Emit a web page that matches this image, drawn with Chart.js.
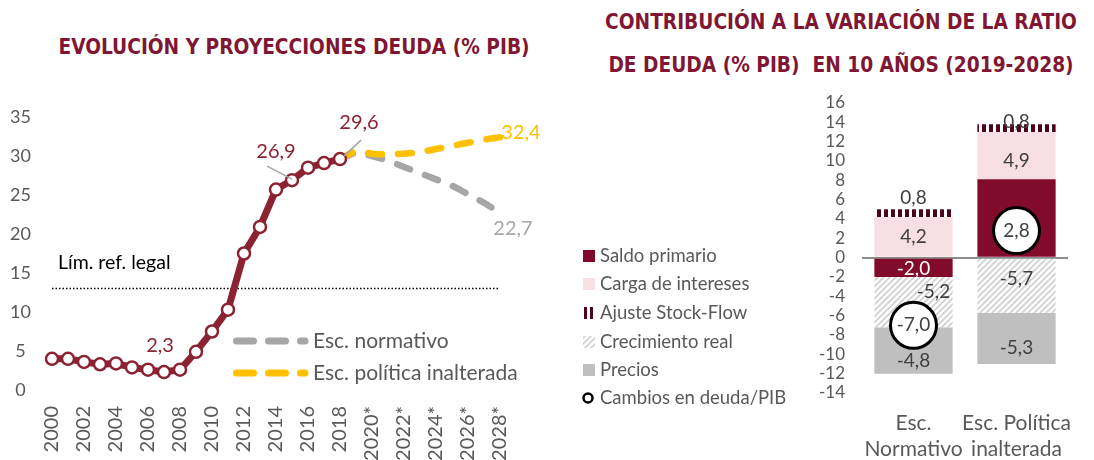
<!DOCTYPE html>
<html>
<head>
<meta charset="utf-8">
<script src="https://cdn.jsdelivr.net/npm/chart.js@4.4.1/dist/chart.umd.min.js"></script>
<style>
  body { margin: 0; background: #fff; width: 1094px; height: 460px; overflow: hidden; position: relative; font-family: Lato, sans-serif; }
  .tit { position: absolute; color: #7f1734; font-family: 'Liberation Sans Narrow', 'DejaVu Sans Condensed', sans-serif; font-weight: bold; font-size: 20.7px; white-space: nowrap; transform: translate(-50%, -50%); }
  #graficaDeuda { position: absolute; left: 0; top: 0; }
  #graficaContrib { position: absolute; left: 555px; top: 0; }
</style>
</head>
<body>
<div class="tit" style="left:294px;top:47px">EVOLUCIÓN Y PROYECCIONES DEUDA (% PIB)</div>
<div class="tit" style="left:841px;top:22px">CONTRIBUCIÓN A LA VARIACIÓN DE LA RATIO</div>
<div class="tit" style="left:841px;top:65px">DE DEUDA (% PIB)&nbsp; EN 10 AÑOS (2019-2028)</div>
<canvas id="graficaDeuda" width="555" height="460"></canvas>
<canvas id="graficaContrib" width="539" height="460"></canvas>
<script>
/* DATOS IZQUIERDA */
const anios = ['2000','2001','2002','2003','2004','2005','2006','2007','2008','2009',
  '2010','2011','2012','2013','2014','2015','2016','2017','2018','2019*',
  '2020*','2021*','2022*','2023*','2024*','2025*','2026*','2027*','2028*'];
const deudaHist = [4.0, 4.0, 3.6, 3.3, 3.4, 2.9, 2.6, 2.3, 2.6, 4.9,
  7.5, 10.3, 17.5, 20.9, 25.7, 26.9, 28.5, 29.1, 29.6];
const escNormativo = [null, null, null, null, null, null, null, null, null, null,
  null, null, null, null, null, null, null, null, 29.6, 30.4,
  30.0, 29.4, 28.6, 27.8, 27.0, 26.2, 25.1, 24.0, 22.7];
const escInalterada = [null, null, null, null, null, null, null, null, null, null,
  null, null, null, null, null, null, null, null, 29.6, 30.6,
  30.3, 30.2, 30.3, 30.5, 30.9, 31.3, 31.7, 32.1, 32.4];
const limRefLegal = 13;

/* DATOS DERECHA */
const escenarios = [['Esc.', 'Normativo'], ['Esc. Política', 'inalterada']];
const saldoPrimario = [-2.0, 8.1];
const cargaIntereses = [4.2, 4.9];
const ajusteStockFlow = [0.8, 0.8];
const crecimientoReal = [-5.2, -5.7];
const precios = [-4.8, -5.3];
const cambiosDeuda = [-7.0, 2.8];

const rojo = '#8b2332';
const gris = '#a6a6a6';
const amarillo = '#ffc000';
const textoGris = '#595959';
const fuente = 'Lato';

const fmt = v => v.toFixed(1).replace('.', ',');

/* GRAFICA IZQUIERDA */
const pluginDeuda = {
  id: 'anotDeuda',
  beforeDatasetsDraw(chart) {
    const ctx = chart.ctx;
    const y = chart.scales.y.getPixelForValue(limRefLegal);
    ctx.save();
    ctx.strokeStyle = '#000';
    ctx.lineWidth = 1.5;
    ctx.setLineDash([1.5, 2]);
    ctx.beginPath();
    ctx.moveTo(chart.chartArea.left, y);
    ctx.lineTo(chart.chartArea.right, y);
    ctx.stroke();
    ctx.restore();
  },
  afterDatasetsDraw(chart) {
    const ctx = chart.ctx;
    const xs = chart.scales.x, ys = chart.scales.y;
    const px = i => xs.getPixelForValue(i);
    ctx.save();
    ctx.textAlign = 'left';
    ctx.textBaseline = 'middle';
    ctx.fillStyle = '#000';
    ctx.font = '19.5px ' + fuente;
    ctx.fillText('Lím. ref. legal', 58, ys.getPixelForValue(limRefLegal) - 26);

    // etiquetas de valores
    ctx.textAlign = 'center';
    ctx.font = '20px ' + fuente;
    const etiquetas = [
      { i: 7, v: deudaHist[7], dx: -4, dy: -27, col: rojo },
      { i: 15, v: deudaHist[15], dx: -16, dy: -29, col: rojo, linea: [[-25, -14], [0, -1]] },
      { i: 18, v: deudaHist[18], dx: 19, dy: -37, col: rojo, linea: [[21, -19], [4, -3]] },
      { i: 28, v: escInalterada[28], dx: 21, dy: -5, col: amarillo },
      { i: 28, v: escNormativo[28], dx: 13, dy: 16, col: gris }
    ];
    etiquetas.forEach(e => {
      const x = px(e.i), y = ys.getPixelForValue(e.v);
      if (e.linea) {
        ctx.strokeStyle = gris;
        ctx.lineWidth = 1.5;
        ctx.beginPath();
        ctx.moveTo(x + e.linea[0][0], y + e.linea[0][1]);
        ctx.lineTo(x + e.linea[1][0], y + e.linea[1][1]);
        ctx.stroke();
      }
      ctx.fillStyle = e.col;
      ctx.fillText(fmt(e.v), x + e.dx, y + e.dy);
    });

    // leyenda
    const filas = [
      { txt: 'Esc. normativo', col: gris, y: 341 },
      { txt: 'Esc. política inalterada', col: amarillo, y: 373 }
    ];
    filas.forEach(f => {
      ctx.strokeStyle = f.col;
      ctx.lineWidth = 7;
      ctx.lineCap = 'round';
      ctx.setLineDash([17, 15]);
      ctx.beginPath();
      ctx.moveTo(236.5, f.y);
      ctx.lineTo(305, f.y);
      ctx.stroke();
      ctx.setLineDash([]);
      ctx.fillStyle = textoGris;
      ctx.textAlign = 'left';
      ctx.font = '21px ' + fuente;
      ctx.fillText(f.txt, 313, f.y);
    });
    ctx.restore();
  }
};

new Chart(document.getElementById('graficaDeuda'), {
  type: 'line',
  data: {
    labels: anios,
    datasets: [
      {
        label: 'Deuda (% PIB)',
        data: deudaHist,
        borderColor: rojo,
        borderWidth: 7,
        pointRadius: 6,
        pointBorderWidth: 2.5,
        pointBackgroundColor: '#fff',
        pointBorderColor: rojo,
        tension: 0
      },
      {
        label: 'Esc. política inalterada',
        data: escInalterada,
        borderColor: amarillo,
        borderWidth: 6.5,
        borderDash: [14, 16],
        borderCapStyle: 'round',
        pointRadius: 0,
        tension: 0.3
      },
      {
        label: 'Esc. normativo',
        data: escNormativo,
        borderColor: gris,
        borderWidth: 6.5,
        borderDash: [14, 16],
        borderCapStyle: 'round',
        pointRadius: 0,
        tension: 0.3
      }
    ]
  },
  options: {
    responsive: false,
    animation: false,
    layout: { padding: { top: 117, right: 55, left: 0, bottom: 0 } },
    plugins: { legend: { display: false }, tooltip: { enabled: false } },
    scales: {
      x: {
        grid: { display: false },
        border: { display: false },
        afterFit: s => { s.height = 70; },
        ticks: {
          autoSkip: false,
          minRotation: 90,
          maxRotation: 90,
          padding: 8,
          color: textoGris,
          font: { size: 20, family: fuente },
          callback: function (val, i) { return i % 2 === 0 ? this.getLabelForValue(val) : ''; }
        }
      },
      y: {
        min: 0,
        max: 35,
        grid: { display: false },
        border: { display: false },
        afterFit: s => { s.width = 52; },
        ticks: {
          stepSize: 5,
          crossAlign: 'center',
          padding: 13,
          color: textoGris,
          font: { size: 18, family: fuente }
        }
      }
    }
  },
  plugins: [pluginDeuda]
});

/* GRAFICA DERECHA */
function patronHatch() {
  const c = document.createElement('canvas');
  c.width = 6; c.height = 6;
  const g = c.getContext('2d');
  g.fillStyle = '#fff';
  g.fillRect(0, 0, 6, 6);
  g.strokeStyle = '#cfcfcf';
  g.lineWidth = 1.6;
  g.beginPath();
  g.moveTo(-1, 7); g.lineTo(7, -1);
  g.moveTo(-1, 1); g.lineTo(1, -1);
  g.moveTo(5, 7); g.lineTo(7, 5);
  g.stroke();
  return g.createPattern(c, 'repeat');
}
function patronBarras() {
  const c = document.createElement('canvas');
  c.width = 7; c.height = 4;
  const g = c.getContext('2d');
  g.fillStyle = '#fff';
  g.fillRect(0, 0, 7, 4);
  g.fillStyle = '#4c0519';
  g.fillRect(0, 0, 4, 4);
  return g.createPattern(c, 'repeat');
}
const hatch = patronHatch();
const barras = patronBarras();

const colSaldo = '#820a2b';
const colCarga = '#f7dfe3';
const colPrecios = '#bfbfbf';

// desplazamientos de las etiquetas respecto al centro del tramo [dx, dy] (null = oculta)
const despl = [
  [[0, 1], null],
  [[0, 0], [0, 5]],
  [[0, -15], [0, -6]],
  [[20, -10], [0, -7]],
  [[0, 10], [0, 9]]
];

const pluginContrib = {
  id: 'anotContrib',
  afterDatasetsDraw(chart) {
    const ctx = chart.ctx;
    ctx.save();
    ctx.textAlign = 'center';
    ctx.textBaseline = 'middle';
    ctx.font = '19px ' + fuente;
    for (let d = 0; d < 5; d++) {
      const meta = chart.getDatasetMeta(d);
      meta.data.forEach((bar, i) => {
        const off = despl[d][i];
        if (!off) return;
        const cy = (bar.y + bar.base) / 2;
        ctx.fillStyle = d === 0 ? '#fff' : '#404040';
        ctx.fillText(fmt(chart.data.datasets[d].data[i]), bar.x + off[0], cy + off[1]);
      });
    }
    const metaC = chart.getDatasetMeta(5);
    metaC.data.forEach((pt, i) => {
      ctx.fillStyle = '#404040';
      ctx.fillText(fmt(cambiosDeuda[i]), pt.x, pt.y);
    });

    // leyenda
    const lx = 28, ty = [256, 284, 313, 342, 370, 398];
    const textos = ['Saldo primario', 'Carga de intereses', 'Ajuste Stock-Flow', 'Crecimiento real', 'Precios', 'Cambios en deuda/PIB'];
    ctx.fillStyle = colSaldo; ctx.fillRect(lx, ty[0] - 6, 12, 12);
    ctx.fillStyle = colCarga; ctx.fillRect(lx, ty[1] - 6, 12, 12);
    ctx.fillStyle = '#4c0519'; ctx.fillRect(lx + 1, ty[2] - 6, 3, 12); ctx.fillRect(lx + 7, ty[2] - 6, 3, 12);
    ctx.fillStyle = hatch; ctx.fillRect(lx, ty[3] - 6, 12, 12);
    ctx.fillStyle = colPrecios; ctx.fillRect(lx, ty[4] - 6, 12, 12);
    ctx.strokeStyle = '#000'; ctx.lineWidth = 2.5;
    ctx.beginPath(); ctx.arc(lx + 5, ty[5], 4.5, 0, Math.PI * 2); ctx.stroke();
    ctx.fillStyle = textoGris;
    ctx.textAlign = 'left';
    ctx.font = '18.5px ' + fuente;
    textos.forEach((t, i) => ctx.fillText(t, lx + 17, ty[i]));
    ctx.restore();
  }
};

new Chart(document.getElementById('graficaContrib'), {
  type: 'bar',
  data: {
    labels: escenarios,
    datasets: [
      { label: 'Saldo primario', data: saldoPrimario, backgroundColor: colSaldo, order: 1 },
      { label: 'Carga de intereses', data: cargaIntereses, backgroundColor: colCarga, order: 1 },
      { label: 'Ajuste Stock-Flow', data: ajusteStockFlow, backgroundColor: barras, order: 1 },
      { label: 'Crecimiento real', data: crecimientoReal, backgroundColor: hatch, order: 1 },
      { label: 'Precios', data: precios, backgroundColor: colPrecios, order: 1 },
      {
        label: 'Cambios en deuda/PIB',
        type: 'line',
        data: cambiosDeuda,
        stack: 'cambios',
        showLine: false,
        pointRadius: 23,
        pointBorderWidth: 3,
        pointBackgroundColor: '#fff',
        pointBorderColor: '#000',
        order: 0
      }
    ]
  },
  options: {
    responsive: false,
    animation: false,
    datasets: { bar: { categoryPercentage: 1, barPercentage: 0.76 } },
    layout: { padding: { top: 103, right: 2, left: 262, bottom: 0 } },
    plugins: { legend: { display: false }, tooltip: { enabled: false } },
    scales: {
      x: {
        stacked: true,
        grid: { display: false },
        border: { display: false },
        afterFit: s => { s.height = 67; },
        ticks: {
          autoSkip: false,
          minRotation: 0,
          maxRotation: 0,
          padding: 9,
          color: textoGris,
          font: { size: 21, family: fuente, lineHeight: 1.25 }
        }
      },
      y: {
        stacked: true,
        min: -14,
        max: 16,
        z: 1,
        border: { display: false },
        grid: {
          drawTicks: false,
          lineWidth: 2,
          color: c => c.tick && c.tick.value === 0 ? '#8c8c8c' : 'rgba(0,0,0,0)'
        },
        afterFit: s => { s.width = 45; },
        ticks: {
          autoSkip: false,
          stepSize: 2,
          padding: 17,
          color: textoGris,
          font: { size: 17, family: fuente }
        }
      }
    }
  },
  plugins: [pluginContrib]
});
</script>
</body>
</html>
